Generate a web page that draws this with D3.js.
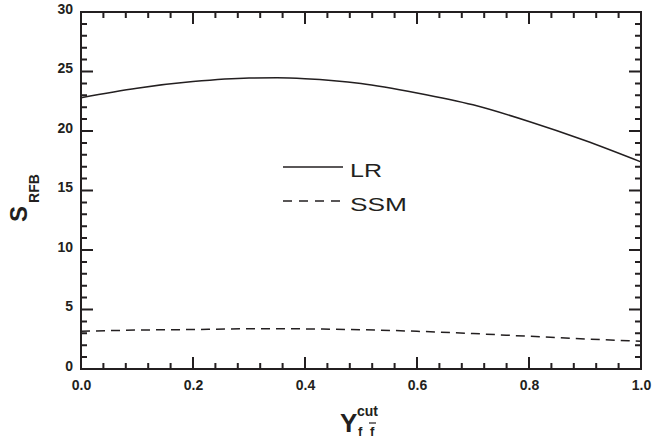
<!DOCTYPE html>
<html><head><meta charset="utf-8">
<script src="https://cdn.jsdelivr.net/npm/d3@7"></script>
<style>body{margin:0;background:#fff}svg{display:block}text{font-family:"Liberation Sans",Arial,sans-serif}</style>
</head><body><svg id="c" width="654" height="446"></svg>
<script>
const xs = [0.0, 0.1, 0.2, 0.3, 0.35, 0.4, 0.5, 0.6, 0.7, 0.8, 0.9, 1.0];
const lrValues = [22.8, 23.6, 24.15, 24.45, 24.47, 24.4, 24.0, 23.2, 22.2, 20.8, 19.2, 17.4];
const ssmValues = [3.17, 3.27, 3.32, 3.38, 3.39, 3.37, 3.3, 3.17, 2.98, 2.75, 2.53, 2.33];
const xTicks = [0, 0.2, 0.4, 0.6, 0.8, 1.0];
const yTicks = [0, 5, 10, 15, 20, 25, 30];
const legendLabels = ["LR", "SSM"];

const svg = d3.select("#c");
const L = 81, R = 641, T = 12, B = 369;
const x = d3.scaleLinear().domain([0, 1]).range([L, R]);
const y = d3.scaleLinear().domain([0, 30]).range([B, T]);
const col = "#231f20";

const xMinor = d3.range(26).map(i => i * 0.04);
const yMinor = d3.range(31);

// frame + ticks in one path
let d = `M${L},${T}H${R}V${B}H${L}Z`;
xMinor.forEach((v, i) => {
  const len = i % 5 === 0 ? 12 : 6, px = x(v);
  d += `M${px},${B}V${B - len}M${px},${T}V${T + len}`;
});
yMinor.forEach((v, i) => {
  const len = i % 5 === 0 ? 12 : 6, py = y(v);
  d += `M${L},${py}H${L + len}M${R},${py}H${R - len}`;
});
svg.append("path").attr("d", d).attr("fill", "none").attr("stroke", col).attr("stroke-width", 2);

// tick labels via axes
const xb = svg.append("g").attr("transform", `translate(0,${B})`)
  .call(d3.axisBottom(x).tickValues(xTicks).tickSize(0).tickPadding(11).tickFormat(d3.format(".1f")));
const yl = svg.append("g").attr("transform", `translate(${L},0)`)
  .call(d3.axisLeft(y).tickValues(yTicks).tickSize(0).tickPadding(8).tickFormat(d3.format("d")));
[xb, yl].forEach(g => {
  g.select(".domain").remove();
  g.selectAll("line").remove();
  g.selectAll("text").attr("fill", col).attr("font-size", 14).attr("font-weight", "bold")
    .style("font-family", '"Liberation Sans",Arial,sans-serif');
});
yl.selectAll("text").attr("dy", "0.1em");

const line = d3.line().curve(d3.curveMonotoneX);
svg.append("path").attr("d", line(xs.map((v, i) => [x(v), y(lrValues[i])])))
  .attr("fill", "none").attr("stroke", col).attr("stroke-width", 1.5);
svg.append("path").attr("d", line(xs.map((v, i) => [x(v), y(ssmValues[i])])))
  .attr("fill", "none").attr("stroke", col).attr("stroke-width", 1.5).attr("stroke-dasharray", "9,6");

// legend
const lg = svg.append("g");
const legLen = [32, 57];
legendLabels.forEach((lab, i) => {
  const yy = 167 + i * 34;
  lg.append("line").attr("x1", 283).attr("x2", i ? 340 : 343).attr("y1", yy).attr("y2", yy)
    .attr("stroke", col).attr("stroke-width", 1.5).attr("stroke-dasharray", i ? "9,7" : null);
  lg.append("text").attr("x", 350).attr("y", yy + 10).attr("font-size", 19).attr("fill", col)
    .attr("textLength", legLen[i]).attr("lengthAdjust", "spacingAndGlyphs").text(lab);
});

// y title
const yt = svg.append("text").attr("transform", "translate(27,222) rotate(-90)")
  .attr("font-weight", "bold").attr("fill", col);
yt.append("tspan").attr("font-size", 24).text("S");
yt.append("tspan").attr("font-size", 14).attr("dx", 3).attr("dy", 12).text("RFB");

// x title
const xt = svg.append("g").attr("fill", col).attr("font-weight", "bold");
xt.append("text").attr("x", 340).attr("y", 432).attr("font-size", 26).text("Y");
xt.append("text").attr("x", 357).attr("y", 416).attr("font-size", 14).text("cut");
xt.append("text").attr("x", 358).attr("y", 436).attr("font-size", 13).text("f");
xt.append("text").attr("x", 370).attr("y", 436).attr("font-size", 13).text("f");
xt.append("line").attr("x1", 369).attr("x2", 376).attr("y1", 423).attr("y2", 423).attr("stroke", col).attr("stroke-width", 1.2);
</script></body></html>
